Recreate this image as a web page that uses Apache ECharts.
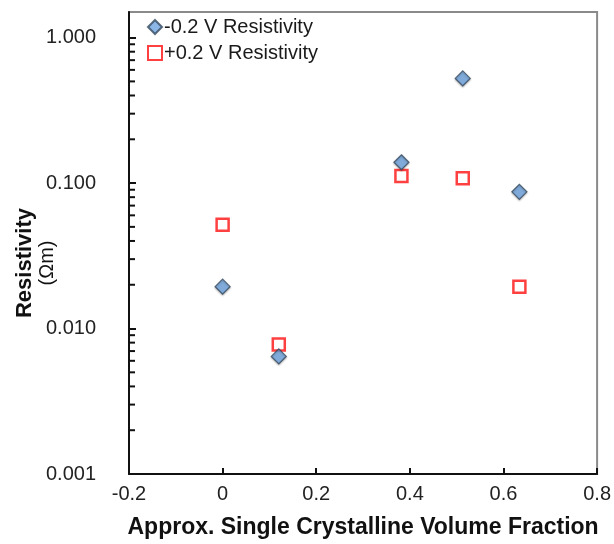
<!DOCTYPE html>
<html>
<head>
<meta charset="utf-8">
<script src="https://cdn.jsdelivr.net/npm/echarts@6/dist/echarts.min.js"></script>
<style>
  html, body { margin: 0; padding: 0; background: #fff; }
  #main { width: 614px; height: 544px; }
</style>
</head>
<body>
<div id="main"></div>
<script>
// volume fraction (x) for each sample
const fraction = [0, 0.12, 0.382, 0.513, 0.634];
// resistivity at -0.2 V and +0.2 V (Ohm m)
const negResistivity = [0.0194, 0.00643, 0.139, 0.524, 0.087];
const posResistivity = [0.0516, 0.00777, 0.112, 0.108, 0.0194];
// minor tick positions on the log axis
const minorTicks = [
  0.002, 0.003, 0.004, 0.005, 0.006, 0.007, 0.008, 0.009,
  0.02, 0.03, 0.04, 0.05, 0.06, 0.07, 0.08, 0.09,
  0.2, 0.3, 0.4, 0.5, 0.6, 0.7, 0.8, 0.9
];

const myChart = echarts.init(document.getElementById('main'));
const font = 'Liberation Sans, Arial, sans-serif';

let option = {
  backgroundColor: '#fff',
  animation: false,
  textStyle: { fontFamily: font },
  grid: {
    left: 129, right: 16, top: 12, bottom: 68,
    show: true,
    borderColor: '#8a8a8a',
    borderWidth: 2
  },
  legend: {
    data: ['-0.2 V Resistivity', '+0.2 V Resistivity'],
    orient: 'vertical',
    left: 142,
    top: 12,
    itemGap: 6,
    itemWidth: 14,
    itemHeight: 14,
    textStyle: { fontSize: 20, color: '#1a1a1a', fontFamily: font, padding: [0, 0, 0, -3] }
  },
  xAxis: {
    type: 'value',
    min: -0.2,
    max: 0.8,
    interval: 0.2,
    name: 'Approx. Single Crystalline Volume Fraction',
    nameLocation: 'middle',
    nameGap: 42,
    nameTextStyle: { fontSize: 23, fontWeight: 'bold', color: '#111', fontFamily: font },
    axisLine: { show: true, onZero: false, lineStyle: { color: '#111', width: 2 } },
    axisTick: { show: true, inside: true, length: 6, lineStyle: { color: '#111', width: 2 } },
    axisLabel: {
      fontSize: 20, color: '#222', margin: 10,
      formatter: v => (Math.abs(v) < 1e-9 ? '0' : String(Math.round(v * 10) / 10))
    },
    splitLine: { show: false }
  },
  yAxis: {
    type: 'log',
    min: 0.001,
    max: 1.5,
    logBase: 10,
    axisLine: { show: true, onZero: false, lineStyle: { color: '#111', width: 2 } },
    axisTick: { show: true, inside: true, length: 7, lineStyle: { color: '#111', width: 2 } },
    axisLabel: {
      fontSize: 20, color: '#222', margin: 33,
      showMaxLabel: false,
      formatter: v => {
        const e = Math.log10(v);
        return Math.abs(e - Math.round(e)) < 1e-6 ? v.toFixed(3) : '';
      }
    },
    splitLine: { show: false }
  },
  graphic: [{
    type: 'text',
    x: 36,
    y: 263,
    rotation: Math.PI / 2,
    style: {
      text: '{a|Resistivity}\n{b|(Ωm)}',
      align: 'center',
      verticalAlign: 'middle',
      rich: {
        a: { fontSize: 22, fontWeight: 'bold', fontFamily: font, fill: '#111', lineHeight: 23 },
        b: { fontSize: 20, fontFamily: font, fill: '#111', lineHeight: 23 }
      }
    }
  }],
  series: [
    {
      name: 'minor',
      type: 'custom',
      silent: true,
      data: minorTicks.map(v => [-0.2, v]),
      renderItem: (params, api) => {
        const p = api.coord([api.value(0), api.value(1)]);
        return {
          type: 'line',
          shape: { x1: p[0], y1: p[1], x2: p[0] + 6, y2: p[1] },
          style: { stroke: '#111', lineWidth: 2 }
        };
      },
      z: 1
    },
    {
      name: '+0.2 V Resistivity',
      type: 'scatter',
      symbol: 'rect',
      symbolSize: 12,
      data: fraction.map((x, i) => [x, posResistivity[i]]),
      itemStyle: { color: '#fff', borderColor: '#ff1010', borderWidth: 2.5 },
      z: 3
    },
    {
      name: '-0.2 V Resistivity',
      type: 'scatter',
      symbol: 'diamond',
      symbolSize: 15,
      data: fraction.map((x, i) => [x, negResistivity[i]]),
      itemStyle: {
        color: '#6ea4de', borderColor: '#34485e', borderWidth: 1.2,
        shadowColor: 'rgba(0,0,0,0.3)', shadowBlur: 2, shadowOffsetY: 1
      },
      z: 4
    }
  ]
};

option && myChart.setOption(option);
</script>
</body>
</html>
